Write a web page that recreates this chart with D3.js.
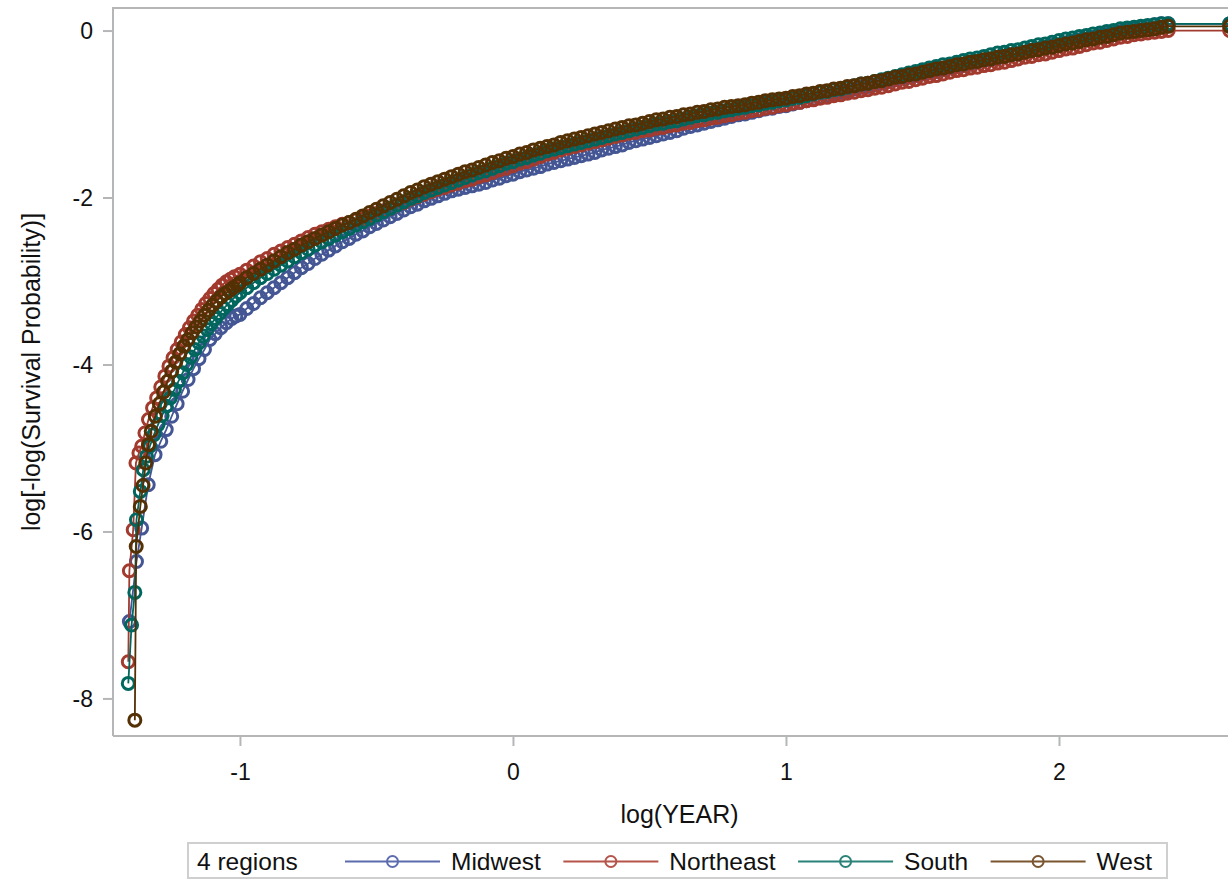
<!DOCTYPE html>
<html><head><meta charset="utf-8">
<script src="https://cdn.jsdelivr.net/npm/d3@7"></script>
<style>
html,body{margin:0;padding:0;background:#fff;}
svg{display:block;font-family:"Liberation Sans",Arial,Helvetica,sans-serif;}
</style>
</head><body>
<svg id="chart" width="1228" height="883"></svg>
<script>
// ---------- data ----------
const regions = ["Midwest", "Northeast", "South", "West"];
const legendTitle = "4 regions";
const xTitle = "log(YEAR)";
const yTitle = "log[-log(Survival Probability)]";
const xTicks = [-1, 0, 1, 2];
const yTicks = [-8, -6, -4, -2, 0];

// early (steep) part: [log(YEAR), log(-log S)]
const steepMidwest = [[-1.405,-7.08],[-1.379,-6.36],[-1.360,-5.96],[-1.336,-5.44],[-1.311,-5.08],[-1.290,-4.92],[-1.270,-4.78],[-1.250,-4.62],[-1.230,-4.47],[-1.210,-4.32],[-1.190,-4.18],[-1.170,-4.05],[-1.150,-3.93],[-1.130,-3.82],[-1.110,-3.70],[-1.090,-3.63],[-1.070,-3.56],[-1.050,-3.50],[-1.030,-3.45],[-1.015,-3.42]];
const steepNortheast = [[-1.409,-7.56],[-1.405,-6.47],[-1.391,-5.98],[-1.381,-5.18],[-1.370,-5.06],[-1.360,-4.98],[-1.348,-4.82],[-1.335,-4.66],[-1.320,-4.52],[-1.305,-4.40],[-1.290,-4.27],[-1.275,-4.14],[-1.260,-4.02],[-1.245,-3.92],[-1.230,-3.82],[-1.215,-3.73],[-1.200,-3.64],[-1.185,-3.56],[-1.170,-3.48],[-1.155,-3.41],[-1.140,-3.34],[-1.125,-3.27],[-1.110,-3.21],[-1.095,-3.15],[-1.080,-3.10],[-1.065,-3.05],[-1.050,-3.01],[-1.035,-2.98],[-1.020,-2.95]];
const steepSouth = [[-1.409,-7.82],[-1.397,-7.12],[-1.385,-6.73],[-1.379,-5.86],[-1.365,-5.52],[-1.354,-5.26],[-1.342,-5.10],[-1.330,-4.98],[-1.315,-4.84],[-1.300,-4.72],[-1.285,-4.61],[-1.270,-4.50],[-1.255,-4.40],[-1.240,-4.30],[-1.225,-4.20],[-1.210,-4.10],[-1.195,-4.00],[-1.180,-3.91],[-1.165,-3.82],[-1.150,-3.74],[-1.135,-3.66],[-1.120,-3.58],[-1.105,-3.51],[-1.090,-3.45],[-1.075,-3.39],[-1.060,-3.33],[-1.045,-3.28],[-1.030,-3.23],[-1.015,-3.18]];
const steepWest = [[-1.385,-8.26],[-1.380,-6.18],[-1.365,-5.70],[-1.355,-5.45],[-1.345,-5.18],[-1.335,-4.96],[-1.325,-4.80],[-1.310,-4.62],[-1.295,-4.47],[-1.280,-4.33],[-1.265,-4.20],[-1.250,-4.08],[-1.235,-3.97],[-1.220,-3.87],[-1.205,-3.78],[-1.190,-3.70],[-1.175,-3.62],[-1.160,-3.55],[-1.145,-3.48],[-1.130,-3.41],[-1.115,-3.35],[-1.100,-3.29],[-1.085,-3.24],[-1.070,-3.19],[-1.055,-3.15],[-1.040,-3.12],[-1.025,-3.08],[-1.010,-3.05]];

// later part, read at these log(YEAR) positions
const gridLogYear = [
-1.000,-0.975,-0.950,-0.925,-0.900,-0.875,-0.850,-0.825,
-0.800,-0.775,-0.750,-0.725,-0.700,-0.675,-0.650,-0.625,
-0.600,-0.575,-0.550,-0.525,-0.500,-0.475,-0.450,-0.425,
-0.400,-0.375,-0.350,-0.325,-0.300,-0.275,-0.250,-0.225,
-0.200,-0.175,-0.150,-0.125,-0.100,-0.075,-0.050,-0.025,
0.000,0.025,0.050,0.075,0.100,0.125,0.150,0.175,
0.200,0.225,0.250,0.275,0.300,0.325,0.350,0.375,
0.400,0.425,0.450,0.475,0.500,0.525,0.550,0.575,
0.600,0.625,0.650,0.675,0.700,0.725,0.750,0.775,
0.800,0.825,0.850,0.875,0.900,0.925,0.950,0.975,
1.000,1.025,1.050,1.075,1.100,1.125,1.150,1.175,
1.200,1.225,1.250,1.275,1.300,1.325,1.350,1.375,
1.400,1.425,1.450,1.475,1.500,1.525,1.550,1.575,
1.600,1.625,1.650,1.675,1.700,1.725,1.750,1.775,
1.800,1.825,1.850,1.875,1.900,1.925,1.950,1.975,
2.000,2.025,2.050,2.075,2.100,2.125,2.150,2.175,
2.200,2.225,2.250,2.275,2.300,2.325,2.350,2.375,
2.400];

const laterMidwest = [
-3.40,-3.33,-3.27,-3.20,-3.14,-3.08,-3.02,-2.96,
-2.90,-2.84,-2.79,-2.73,-2.68,-2.63,-2.58,-2.53,
-2.49,-2.44,-2.40,-2.35,-2.31,-2.27,-2.23,-2.19,
-2.15,-2.11,-2.08,-2.04,-2.01,-1.98,-1.95,-1.92,
-1.90,-1.88,-1.86,-1.84,-1.82,-1.79,-1.77,-1.74,
-1.72,-1.69,-1.67,-1.65,-1.63,-1.60,-1.58,-1.56,
-1.54,-1.52,-1.50,-1.48,-1.46,-1.43,-1.41,-1.39,
-1.37,-1.34,-1.32,-1.30,-1.28,-1.26,-1.24,-1.22,
-1.20,-1.17,-1.15,-1.13,-1.11,-1.09,-1.07,-1.05,
-1.03,-1.01,-1.00,-0.98,-0.96,-0.94,-0.93,-0.91,
-0.90,-0.88,-0.86,-0.84,-0.82,-0.80,-0.78,-0.76,
-0.74,-0.72,-0.70,-0.68,-0.67,-0.65,-0.63,-0.61,
-0.59,-0.57,-0.56,-0.54,-0.52,-0.50,-0.49,-0.47,
-0.45,-0.43,-0.42,-0.40,-0.38,-0.36,-0.35,-0.33,
-0.31,-0.29,-0.28,-0.26,-0.24,-0.22,-0.20,-0.18,
-0.17,-0.15,-0.13,-0.11,-0.10,-0.08,-0.06,-0.04,
-0.03,-0.01,0.01,0.02,0.04,0.05,0.07,0.08,
0.08];
const laterNortheast = [
-2.92,-2.87,-2.82,-2.77,-2.73,-2.68,-2.64,-2.60,
-2.56,-2.52,-2.48,-2.44,-2.41,-2.38,-2.35,-2.32,
-2.30,-2.27,-2.25,-2.22,-2.19,-2.16,-2.13,-2.09,
-2.06,-2.02,-1.99,-1.96,-1.93,-1.90,-1.88,-1.85,
-1.83,-1.80,-1.78,-1.75,-1.73,-1.70,-1.67,-1.65,
-1.62,-1.59,-1.57,-1.54,-1.51,-1.48,-1.46,-1.43,
-1.41,-1.39,-1.37,-1.35,-1.33,-1.31,-1.29,-1.27,
-1.25,-1.23,-1.22,-1.20,-1.19,-1.17,-1.16,-1.14,
-1.13,-1.11,-1.10,-1.08,-1.07,-1.05,-1.04,-1.02,
-1.01,-0.99,-0.98,-0.96,-0.95,-0.93,-0.92,-0.90,
-0.89,-0.87,-0.86,-0.84,-0.83,-0.81,-0.80,-0.78,
-0.77,-0.75,-0.74,-0.72,-0.71,-0.69,-0.68,-0.66,
-0.64,-0.62,-0.61,-0.59,-0.57,-0.55,-0.54,-0.52,
-0.50,-0.48,-0.47,-0.45,-0.44,-0.42,-0.41,-0.39,
-0.38,-0.36,-0.34,-0.32,-0.31,-0.29,-0.28,-0.26,
-0.24,-0.22,-0.21,-0.19,-0.17,-0.15,-0.14,-0.12,
-0.10,-0.08,-0.07,-0.05,-0.04,-0.03,-0.02,-0.01,
0.00];
const laterSouth = [
-3.14,-3.08,-3.02,-2.96,-2.91,-2.86,-2.81,-2.76,
-2.71,-2.66,-2.62,-2.57,-2.53,-2.49,-2.45,-2.41,
-2.37,-2.33,-2.29,-2.25,-2.21,-2.17,-2.13,-2.09,
-2.05,-2.01,-1.98,-1.94,-1.91,-1.88,-1.85,-1.82,
-1.79,-1.76,-1.73,-1.70,-1.68,-1.65,-1.62,-1.59,
-1.57,-1.54,-1.52,-1.49,-1.47,-1.44,-1.42,-1.40,
-1.38,-1.36,-1.34,-1.32,-1.30,-1.28,-1.26,-1.24,
-1.22,-1.20,-1.18,-1.16,-1.14,-1.12,-1.11,-1.09,
-1.08,-1.06,-1.04,-1.02,-1.01,-0.99,-0.98,-0.96,
-0.95,-0.93,-0.92,-0.90,-0.89,-0.87,-0.86,-0.84,
-0.83,-0.81,-0.80,-0.78,-0.76,-0.74,-0.73,-0.71,
-0.70,-0.68,-0.66,-0.64,-0.63,-0.61,-0.59,-0.57,
-0.55,-0.53,-0.51,-0.49,-0.47,-0.45,-0.43,-0.41,
-0.40,-0.38,-0.36,-0.34,-0.33,-0.31,-0.29,-0.27,
-0.26,-0.24,-0.23,-0.21,-0.19,-0.17,-0.16,-0.14,
-0.12,-0.10,-0.09,-0.07,-0.06,-0.04,-0.03,-0.01,
0.00,0.02,0.03,0.04,0.05,0.06,0.07,0.08,
0.08];
const laterWest = [
-3.02,-2.96,-2.91,-2.86,-2.81,-2.76,-2.71,-2.66,
-2.62,-2.57,-2.53,-2.49,-2.45,-2.41,-2.37,-2.33,
-2.30,-2.26,-2.22,-2.18,-2.14,-2.10,-2.06,-2.02,
-1.98,-1.94,-1.91,-1.87,-1.84,-1.81,-1.78,-1.75,
-1.72,-1.69,-1.67,-1.64,-1.61,-1.58,-1.56,-1.53,
-1.51,-1.48,-1.46,-1.43,-1.41,-1.39,-1.37,-1.34,
-1.32,-1.30,-1.28,-1.26,-1.24,-1.22,-1.20,-1.18,
-1.16,-1.14,-1.13,-1.11,-1.09,-1.07,-1.06,-1.04,
-1.03,-1.01,-1.00,-0.98,-0.97,-0.95,-0.94,-0.92,
-0.91,-0.90,-0.89,-0.87,-0.86,-0.84,-0.83,-0.82,
-0.81,-0.79,-0.78,-0.76,-0.75,-0.73,-0.72,-0.70,
-0.69,-0.67,-0.66,-0.64,-0.63,-0.61,-0.60,-0.58,
-0.56,-0.55,-0.53,-0.52,-0.50,-0.48,-0.46,-0.45,
-0.43,-0.41,-0.40,-0.38,-0.37,-0.35,-0.34,-0.32,
-0.31,-0.29,-0.28,-0.26,-0.24,-0.23,-0.21,-0.20,
-0.18,-0.16,-0.15,-0.13,-0.11,-0.10,-0.08,-0.07,
-0.05,-0.03,-0.02,-0.01,0.00,0.01,0.02,0.04,
0.05];

// final (censored) point at the right edge
const endLogYear = 2.625;
const endValues = [0.08, 0.00, 0.08, 0.05];

// ---------- assemble ----------
const steep = [steepMidwest, steepNortheast, steepSouth, steepWest];
const later = [laterMidwest, laterNortheast, laterSouth, laterWest];
const seriesData = regions.map((name, k) => ({
  name,
  points: steep[k]
    .concat(gridLogYear.map((x, i) => [x, later[k][i]]))
    .concat([[endLogYear, endValues[k]]])
}));

// ---------- style ----------
const colors = ["#445694", "#A23A2E", "#01665E", "#543005"];
const legendColors = ["#5d6cae", "#b5544a", "#2a8278", "#7a5630"];
const frameColor = "#b4b6b8";
const fontFamily = '"Liberation Sans",Arial,sans-serif';

const W = 1228, H = 883;
const plot = {left: 113, top: 8, right: 1240, bottom: 736};

const x = d3.scaleLinear().domain([-1.465, 2.663]).range([plot.left, plot.right]);
const y = d3.scaleLinear().domain([-8.45, 0.27]).range([plot.bottom, plot.top]);

const svg = d3.select("#chart");
svg.append("rect").attr("width", W).attr("height", H).attr("fill", "#fff");

// frame (left, top, bottom)
svg.append("path")
  .attr("d", `M${plot.left},${plot.bottom}V${plot.top}H${plot.right + 5}M${plot.left},${plot.bottom}H${plot.right + 5}`)
  .attr("fill", "none").attr("stroke", frameColor).attr("stroke-width", 2);

// axes
const fmt = d => String(d);
const xAxis = svg.append("g").attr("transform", `translate(0,${plot.bottom})`)
  .call(d3.axisBottom(x).tickValues(xTicks).tickSize(10).tickPadding(10).tickFormat(fmt));
const yAxis = svg.append("g").attr("transform", `translate(${plot.left},0)`)
  .call(d3.axisLeft(y).tickValues(yTicks).tickSize(10).tickPadding(10).tickFormat(fmt));
[xAxis, yAxis].forEach(g => {
  g.select(".domain").remove();
  g.selectAll(".tick line").attr("stroke", frameColor).attr("stroke-width", 2);
  g.selectAll(".tick text").attr("fill", "#111").style("font-size", "23px")
    .style("font-family", fontFamily);
});
xAxis.selectAll(".tick text").attr("dy", "1.05em");
yAxis.selectAll(".tick text").attr("dy", "0.36em");

// axis titles
svg.append("text").attr("x", (plot.left + plot.right) / 2 + 3).attr("y", 823)
  .attr("text-anchor", "middle").attr("fill", "#111").style("font-size", "25px").text(xTitle);
svg.append("text").attr("transform", `translate(40,${(plot.top + plot.bottom) / 2}) rotate(-90)`)
  .attr("text-anchor", "middle").attr("fill", "#111").style("font-size", "25px").text(yTitle);

// series
svg.append("clipPath").attr("id", "plotclip").append("rect")
  .attr("x", plot.left).attr("y", plot.top).attr("width", plot.right - plot.left + 10).attr("height", plot.bottom - plot.top);
const gSeries = svg.append("g").attr("clip-path", "url(#plotclip)");
const line = d3.line().x(d => x(d[0])).y(d => y(d[1]));
seriesData.forEach((s, k) => {
  const g = gSeries.append("g");
  g.append("path").attr("d", line(s.points)).attr("fill", "none")
    .attr("stroke", colors[k]).attr("stroke-width", 1.8);
  g.selectAll("circle").data(s.points).join("circle")
    .attr("cx", d => x(d[0])).attr("cy", d => y(d[1])).attr("r", 6)
    .attr("fill", "none").attr("stroke", colors[k]).attr("stroke-width", 3);
});

// legend
const lg = svg.append("g");
const legBox = {x: 188, y: 843, w: 979, h: 35};
lg.append("rect").attr("x", legBox.x).attr("y", legBox.y).attr("width", legBox.w).attr("height", legBox.h)
  .attr("fill", "#fff").attr("stroke", "#cfcfcf").attr("stroke-width", 2);
const legY = 861.5, legBase = 869.5;
lg.append("text").attr("x", 197).attr("y", legBase).attr("fill", "#111").style("font-size", "24.5px").text(legendTitle);
let cursor = 345;
regions.forEach((name, k) => {
  lg.append("line").attr("x1", cursor).attr("x2", cursor + 95).attr("y1", legY).attr("y2", legY)
    .attr("stroke", legendColors[k]).attr("stroke-width", 2);
  lg.append("circle").attr("cx", cursor + 47.5).attr("cy", legY).attr("r", 5.5)
    .attr("fill", "none").attr("stroke", legendColors[k]).attr("stroke-width", 2);
  const t = lg.append("text").attr("x", cursor + 106).attr("y", legBase).attr("fill", "#111")
    .style("font-size", "24.5px").text(name);
  cursor = cursor + 106 + t.node().getComputedTextLength() + 22.5;
});
</script>
</body></html>
